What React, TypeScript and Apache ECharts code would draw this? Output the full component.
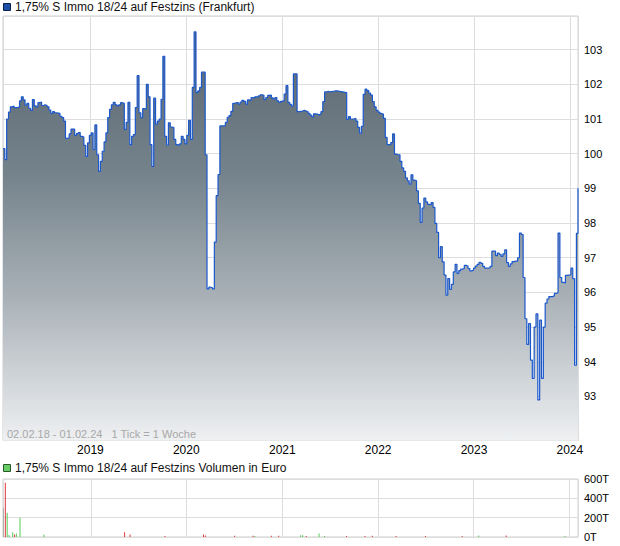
import React, { useEffect, useRef } from "react";
import * as echarts from "echarts";

// ---- data ----
const startDate = "2018-02-02";
const endDate = "2024-02-01";
const titlePrice = "1,75% S Immo 18/24 auf Festzins (Frankfurt)";
const titleVolume = "1,75% S Immo 18/24 auf Festzins Volumen in Euro";
const rangeText = "02.02.18 - 01.02.24   1 Tick = 1 Woche";

// weekly closing prices, week 0 = 02.02.2018
const weeklyPrices = [
  100.15, 99.83, 101.0, 101.2, 101.35, 101.37, 101.33, 101.33, 101.35, 101.52,
  101.64, 101.55, 101.4, 101.45, 101.31, 101.25, 101.56, 101.38, 101.35, 101.47,
  101.49, 101.39, 101.41, 101.39, 101.35, 101.26, 101.16, 101.21, 101.18, 101.17,
  101.16, 101.08, 101.04, 100.94, 100.44, 100.46, 100.57, 100.71, 100.71, 100.53,
  100.58, 100.61, 100.5, 100.48, 100.24, 99.92, 100.31, 100.53, 100.6, 100.12,
  100.83, 99.97, 99.49, 99.78, 100.07, 100.34, 100.6, 101.04, 101.28, 101.41,
  101.48, 101.41, 101.38, 101.41, 101.47, 101.45, 100.7, 100.9, 101.48, 100.26,
  100.5, 100.55, 101.33, 102.25, 101.18, 101.04, 101.3, 101.28, 102.0, 101.64,
  100.26, 99.63, 101.6, 100.85, 100.94, 101.0, 101.57, 102.81, 100.5, 100.25,
  100.89, 100.77, 100.75, 100.41, 100.26, 100.24, 100.28, 100.5, 100.41, 100.28,
  100.53, 100.96, 100.41, 101.91, 103.51, 101.76, 101.81, 101.91, 102.35, 102.35,
  99.97, 96.1, 96.15, 96.13, 96.1, 97.45, 98.79, 99.4, 100.8, 100.8,
  100.81, 100.9, 101.05, 101.1, 101.22, 101.45, 101.47, 101.47, 101.43, 101.49,
  101.54, 101.51, 101.43, 101.55, 101.53, 101.62, 101.6, 101.64, 101.64, 101.67,
  101.7, 101.68, 101.56, 101.62, 101.68, 101.69, 101.61, 101.58, 101.62, 101.52,
  101.48, 101.51, 101.53, 101.72, 101.96, 101.48, 101.42, 101.37, 102.3, 102.3,
  101.21, 101.22, 101.23, 101.25, 101.23, 101.21, 101.16, 101.11, 101.06, 101.15,
  101.14, 101.12, 101.14, 101.21, 101.5, 101.78, 101.8, 101.78, 101.79, 101.8,
  101.81, 101.81, 101.8, 101.79, 101.78, 101.77, 101.76, 100.99, 101.07, 101.0,
  101.0, 101.02, 100.94, 100.76, 100.59, 100.79, 101.71, 101.86, 101.82, 101.75,
  101.69, 101.5, 101.35, 101.25, 101.2, 101.16, 101.14, 101.02, 100.47, 100.26,
  100.26, 100.32, 100.57, 99.99, 99.97, 99.97, 99.78, 99.59, 99.49, 99.3,
  99.22, 99.12, 99.39, 99.24, 99.22, 98.93, 98.57, 98.02, 98.43, 98.72,
  98.61, 98.54, 98.53, 98.59, 98.45, 97.99, 97.73, 97.0, 97.32, 96.88,
  96.5, 95.92, 96.4, 96.09, 96.23, 96.59, 96.81, 96.55, 96.63, 96.67,
  96.69, 96.78, 96.76, 96.69, 96.62, 96.64, 96.7, 96.76, 96.81, 96.87,
  96.84, 96.75, 96.7, 96.7, 96.71, 96.75, 97.19, 97.19, 97.06, 97.13,
  97.1, 97.04, 97.11, 97.23, 96.86, 96.75, 96.82, 96.89, 96.9, 96.9,
  97.0, 97.71, 97.67, 96.43, 95.24, 94.5, 95.1, 94.05, 93.52, 95.0,
  95.38, 92.9, 95.2, 93.52, 95.0, 95.69, 95.81, 95.88, 95.88, 95.9,
  95.97, 95.99, 97.71, 96.43, 96.29, 96.27, 96.49, 96.5, 96.51, 96.7,
  96.4, 93.9, 97.7,
];
const lastPrice = 99.0; // 01.02.2024

// volume (weekly index, value in euro, up/down/flat)
const volWeeks = [0, 1, 2, 3, 5, 6, 7, 9, 22, 66, 69, 88, 109, 110, 126, 136, 137, 146, 150, 162, 163, 165, 172, 175, 187, 197, 201, 214, 230, 250, 259, 274, 306];
const volValues = [300000, 560000, 250000, 20000, 50000, 27000, 35000, 200000, 25000, 50000, 25000, 8000, 25000, 15000, 12000, 12000, 5000, 12000, 12000, 17000, 17000, 6000, 35000, 5000, 10000, 5000, 12000, 5000, 5000, 5000, 15000, 15000, 6000];
const volKinds = ["flat", "down", "up", "up", "up", "down", "up", "up", "up", "down", "down", "down", "down", "down", "down", "down", "up", "down", "down", "up", "up", "down", "up", "up", "down", "down", "down", "down", "down", "down", "up", "down", "up"];

const priceTicks = [93, 94, 95, 96, 97, 98, 99, 100, 101, 102, 103];

const FONT = "'Liberation Sans', Arial, sans-serif";

export default function App() {
  const ref = useRef<HTMLDivElement>(null);

  useEffect(() => {
    document.body.style.margin = "0";
    const chart = echarts.init(ref.current!, null, { renderer: "svg" });
    const DAY = 86400000;
    const start = new Date(startDate + "T00:00:00").getTime();
    const end = new Date(endDate + "T00:00:00").getTime();
    const weekTime = (i: number) => start + i * 7 * DAY;

    const priceData: [number, number][] = weeklyPrices.map((v, i) => [weekTime(i), v]);
    priceData.push([end, lastPrice]);

    const kindColor: Record<string, string> = { up: "#55cc55", down: "#e03a3a", flat: "#b0b0b0" };
    const volData = volWeeks.map((w, i) => ({
      value: [weekTime(w), volValues[i]],
      itemStyle: { color: kindColor[volKinds[i]] },
    }));

    const grid0 = { left: 3, right: 42, top: 16, bottom: 105.5, show: true, borderColor: "#cccccc", borderWidth: 1, containLabel: false };
    const grid1 = { left: 3, right: 42, top: 479, bottom: 9, show: true, borderColor: "#cccccc", borderWidth: 1, containLabel: false };

    const xCommon = {
      type: "time" as const,
      min: start,
      max: end,
      minInterval: 360 * DAY,
      axisLine: { show: false },
      axisTick: { show: false },
      splitLine: { show: true, lineStyle: { color: "#dddddd", width: 1 } },
    };

    chart.setOption({
      animation: false,
      backgroundColor: "#ffffff",
      textStyle: { fontFamily: FONT },
      grid: [grid0, grid1],
      xAxis: [
        {
          ...xCommon,
          gridIndex: 0,
          axisLabel: {
            show: true,
            formatter: "{yyyy}",
            showMinLabel: false,
            showMaxLabel: false,
            color: "#000000",
            fontSize: 12,
            fontFamily: FONT,
            margin: 3,
          },
        },
        { ...xCommon, gridIndex: 1, axisLabel: { show: false } },
      ],
      yAxis: [
        {
          type: "value",
          gridIndex: 0,
          position: "right",
          min: 91.73,
          max: 103.97,
          minInterval: 1,
          maxInterval: 1,
          axisLine: { show: false },
          axisTick: { show: false },
          splitLine: { show: true, lineStyle: { color: "#dddddd" } },
          axisLabel: {
            color: "#000000",
            fontSize: 11,
            fontFamily: FONT,
            margin: 6,
            showMinLabel: false,
            showMaxLabel: false,
            formatter: (v: number) => (priceTicks.indexOf(Math.round(v * 100) / 100) >= 0 ? String(v) : ""),
          },
        },
        {
          type: "value",
          gridIndex: 1,
          position: "right",
          min: 0,
          max: 600000,
          interval: 200000,
          axisLine: { show: false },
          axisTick: { show: false },
          splitLine: { show: true, lineStyle: { color: "#dddddd" } },
          axisLabel: {
            color: "#000000",
            fontSize: 11,
            fontFamily: FONT,
            margin: 6,
            formatter: (v: number) => v / 1000 + "T",
          },
        },
      ],
      series: [
        {
          type: "line",
          xAxisIndex: 0,
          yAxisIndex: 0,
          data: priceData,
          step: "end",
          showSymbol: false,
          symbol: "none",
          lineStyle: { color: "#1b58cc", width: 1.2 },
          areaStyle: {
            origin: "start",
            opacity: 1,
            color: new echarts.graphic.LinearGradient(0, 0, 0, 1, [
              { offset: 0, color: "#5a6670" },
              { offset: 0.35, color: "#75838c" },
              { offset: 0.65, color: "#a9b1b7" },
              { offset: 1, color: "#eef0f2" },
            ]),
          },
        },
        {
          type: "bar",
          xAxisIndex: 1,
          yAxisIndex: 1,
          data: volData,
          barWidth: 1,
          barMinHeight: 1,
        },
      ],
      graphic: [
        { type: "rect", shape: { x: 3.5, y: 3.5, width: 7, height: 7 }, style: { fill: "#1d4fa6", stroke: "#0a1f4a", lineWidth: 1 } },
        { type: "text", x: 15, y: 7, style: { text: titlePrice, fill: "#111111", font: "12px " + FONT, textVerticalAlign: "middle" } },
        { type: "rect", shape: { x: 3.5, y: 464.5, width: 7, height: 7 }, style: { fill: "#66cc66", stroke: "#2a5a2a", lineWidth: 1 } },
        { type: "text", x: 15, y: 468, style: { text: titleVolume, fill: "#111111", font: "12px " + FONT, textVerticalAlign: "middle" } },
        { type: "text", x: 7, y: 434, z: 100, style: { text: rangeText, fill: "#a8a8a8", font: "11px " + FONT, textVerticalAlign: "middle" } },
      ],
    });

    return () => chart.dispose();
  }, []);

  return <div ref={ref} style={{ width: 620, height: 546 }} />;
}
